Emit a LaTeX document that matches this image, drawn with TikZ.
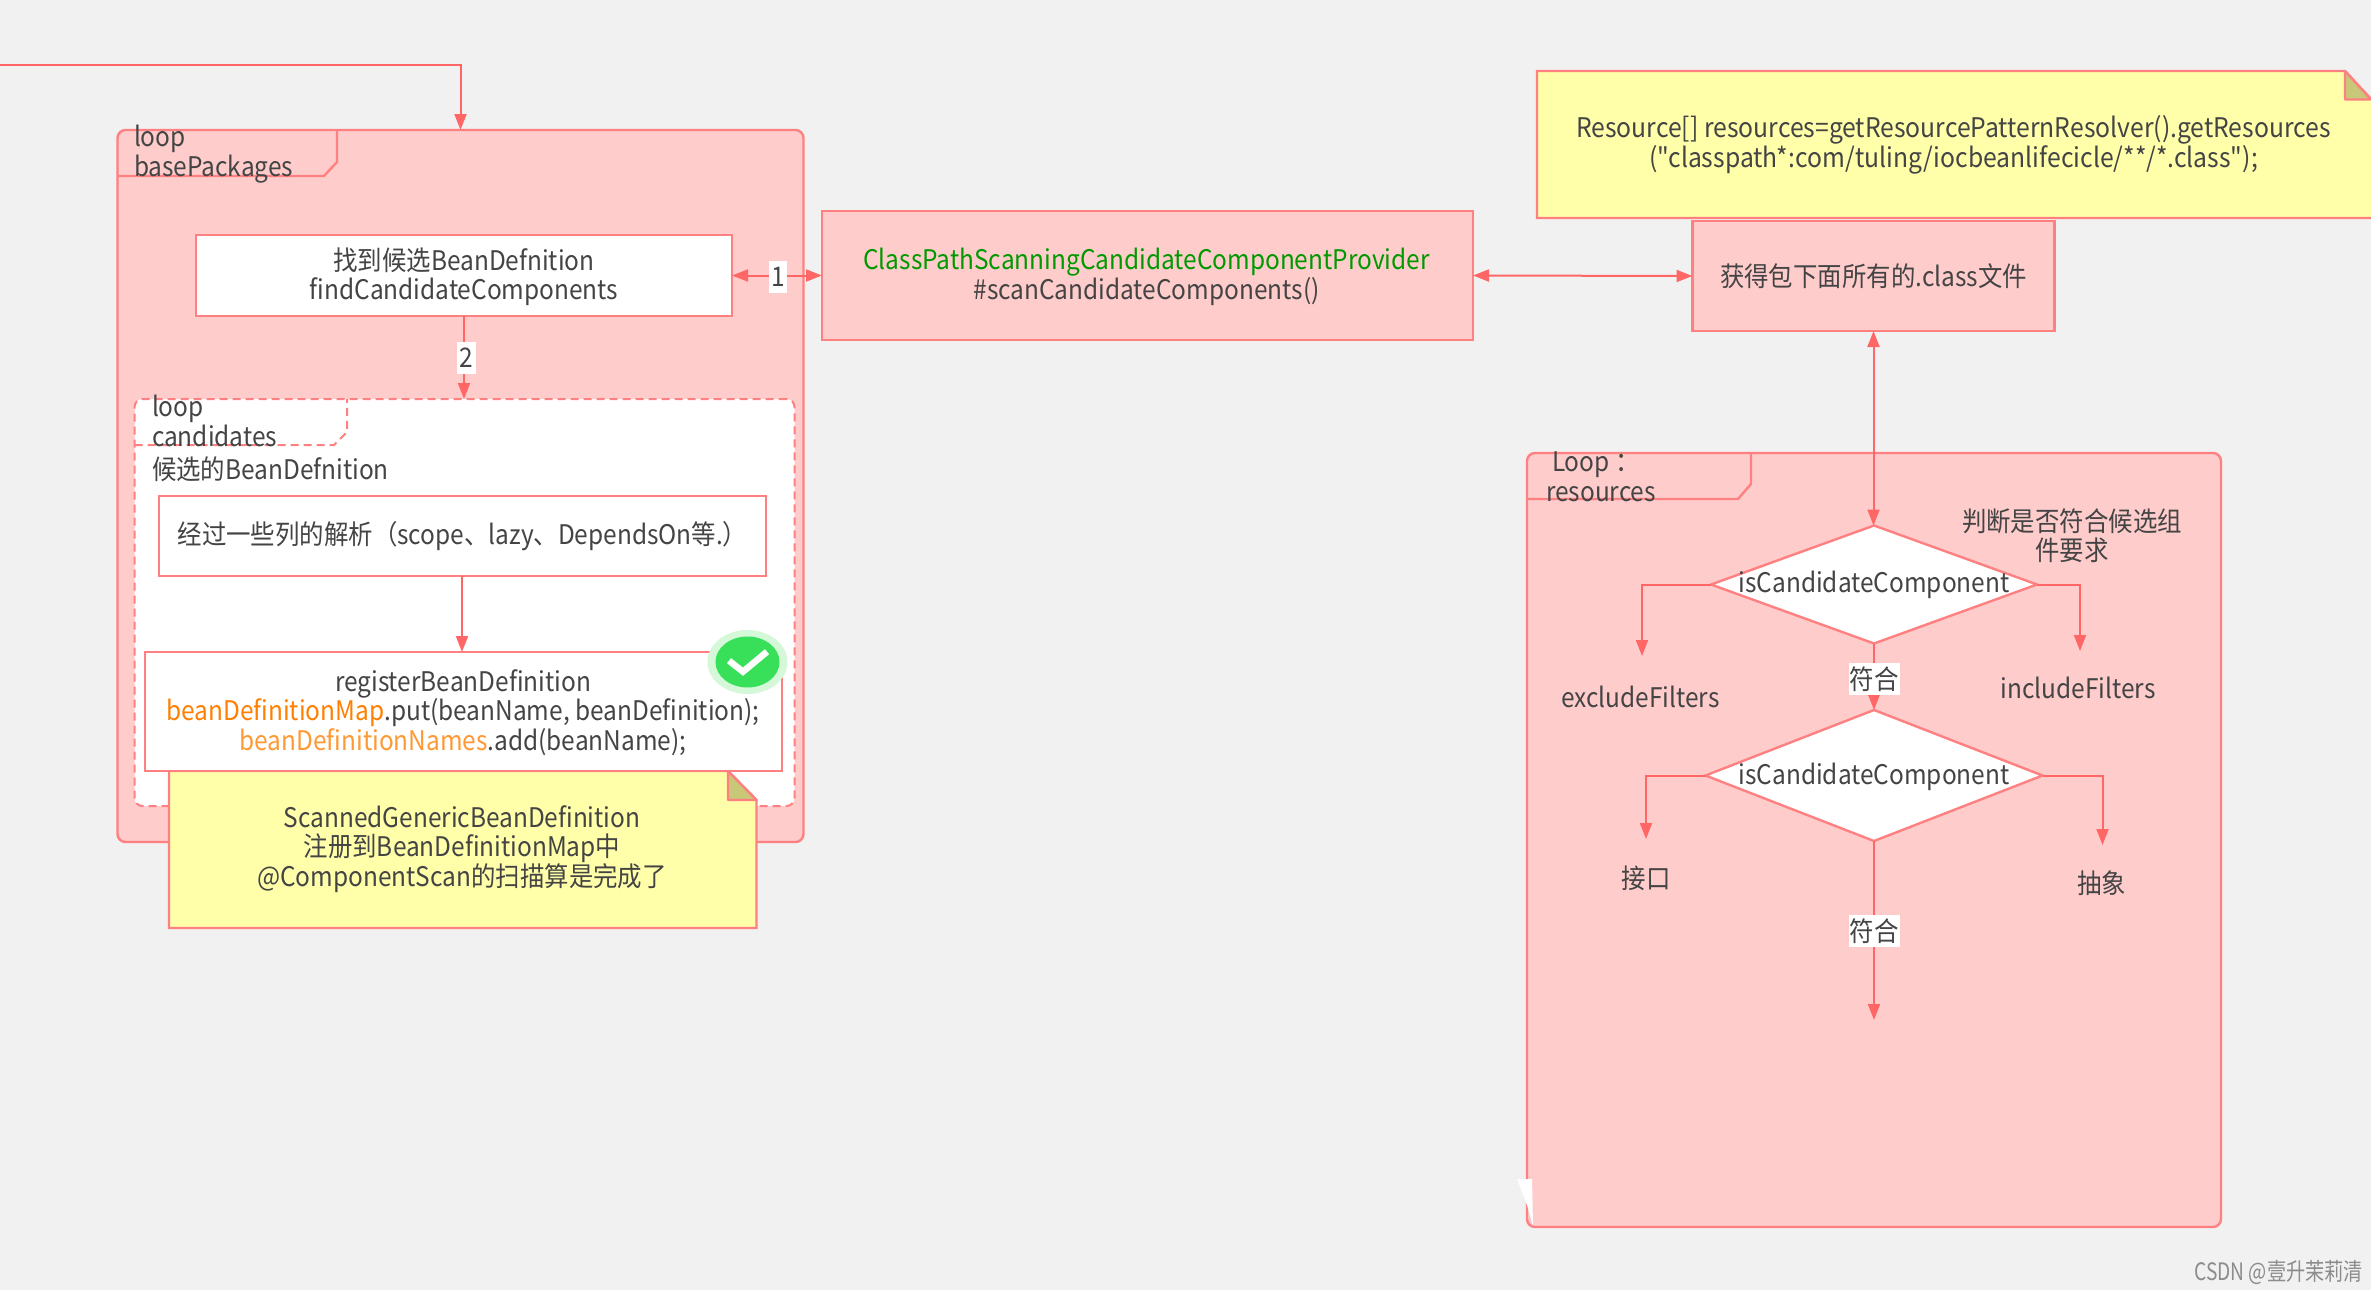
\documentclass[tikz,border=0pt]{standalone}
\usepackage{fontspec}
\setmainfont{Noto Sans CJK SC}[FakeStretch=0.905]
\newfontfamily\plainfont{Noto Sans CJK SC}[FakeStretch=0.915]
\newfontfamily\wmfont{Noto Sans CJK SC}[FakeStretch=0.8]
\usetikzlibrary{arrows.meta,shapes.geometric}
\definecolor{bgc}{HTML}{F1F1F1}
\definecolor{pinkf}{HTML}{FFCCCC}
\definecolor{edge}{HTML}{FF8080}
\definecolor{arrowc}{HTML}{FF6666}
\definecolor{notef}{HTML}{FFFFAA}
\definecolor{foldf}{HTML}{C8C878}
\definecolor{txt}{HTML}{444444}
\definecolor{greent}{HTML}{009900}
\definecolor{orangea}{HTML}{FF8000}
\definecolor{orangeb}{HTML}{FF9933}
\definecolor{okgreen}{HTML}{38E05A}
\definecolor{okhalo}{HTML}{D4F8D8}
\tikzset{
  x=1pt,y=-1pt,
  every node/.style={font=\fontsize{27}{29.5}\selectfont,text=txt,inner sep=0pt,outer sep=0pt},
  frameb/.style={draw=edge,line width=2.4pt,fill=pinkf,rounded corners=8pt},
  dashb/.style={draw=edge,line width=2pt,fill=white,rounded corners=8pt,dash pattern=on 8pt off 5pt},
  boxw/.style={draw=edge,line width=2pt,fill=white},
  boxp/.style={draw=edge,line width=2.2pt,fill=pinkf},
  tabline/.style={draw=edge,line width=2.4pt},
  notep/.style={draw=edge,line width=2.4pt,fill=notef},
  foldp/.style={draw=edge,line width=2.4pt,fill=foldf,line join=round},
  lab/.style={align=center},
  labl/.style={align=left,anchor=west},
  conn/.style={draw=arrowc,line width=2pt,-{Triangle[length=16pt,width=12pt]}},
  connb/.style={draw=arrowc,line width=2pt,{Triangle[length=16pt,width=12pt]}-{Triangle[length=16pt,width=12pt]}},
  tagw/.style={fill=white,align=center,minimum height=32pt},
  dia/.style={diamond,draw=edge,line width=2.4pt,fill=white},
}
\begin{document}
\begin{tikzpicture}
\useasboundingbox (0,0) rectangle (2378,1290);
\fill[bgc] (0,0) rectangle (2378,1290);

% left frame
\node[frameb,minimum width=686pt,minimum height=712pt] (outer) at (460.5,486) {};
\draw[tabline] (117,176) -- (324,176) -- (337,162) -- (337,130);
\node[labl] (outerlab) at (134,154) {loop\\basePackages};

\node[boxw,minimum width=536pt,minimum height=81pt] (find) at (464,275.5) {};
\node[lab] (findt) at (464,276.5) {找到候选BeanDefnition\\findCandidateComponents};

\node[dashb,minimum width=660pt,minimum height=407pt] (cand) at (464.5,602.5) {};
\draw[tabline,line width=2pt,dash pattern=on 8pt off 5pt] (134.5,445) -- (334,445) -- (347,432) -- (347,399);
\node[labl] (candlab) at (152,421) {loop\\candidates};
\node[labl] (candtxt) at (152,469.5) {候选的BeanDefnition};

\node[boxw,minimum width=607pt,minimum height=80pt] (parse) at (462,535.5) {};
\node[lab] (parset) at (462.5,536) {经过一些列的解析（scope、lazy、DependsOn等.）};

% note under register box
\draw[notep] (169,771) -- (728,771) -- (756.5,800) -- (756.5,928) -- (169,928) -- cycle;
\draw[foldp] (728,771) -- (756.5,800) -- (728,800) -- cycle;
\node[lab] (notea) at (462,849) {ScannedGenericBeanDefinition\\注册到BeanDefinitionMap中\\@ComponentScan的扫描算是完成了};

\node[boxw,minimum width=637pt,minimum height=119pt] (reg) at (463.5,711.5) {};
\node[lab] (regt) at (463,712.5) {registerBeanDefinition\\{\color{orangea}beanDefinitionMap}.put(beanName, beanDefinition);\\{\color{orangeb}beanDefinitionNames}.add(beanName);};

% check badge
\node[ellipse,fill=okhalo,minimum width=80pt,minimum height=64pt] (okh) at (747.5,662) {};
\node[ellipse,fill=okgreen,minimum width=64pt,minimum height=51pt] (ok) at (747.5,662) {};
\draw[white,line width=6.5pt] (729,660.7) -- (743,671.7) -- (767,651.7);

% middle box
\node[boxp,minimum width=651pt,minimum height=129pt] (scan) at (1147.5,275.5) {};
\node[lab] (scant) at (1146.5,277) {{\color{greent}ClassPathScanningCandidateComponentProvider}\\\#scanCandidateComponents()};

% right top
\draw[notep] (2378,218) -- (1537,218) -- (1537,71) -- (2345,71) -- (2371,99);
\draw[foldp] (2371,99.5) -- (2345,99.5) -- (2345,71) -- cycle;
\node[lab] (noteb) at (1953.5,145) {\plainfont Resource[] resources=getResourcePatternResolver().getResources\\\plainfont ("classpath*:com/tuling/iocbeanlifecicle/**/*.class");};
\node[boxp,minimum width=362pt,minimum height=110pt] (cls) at (1873.5,276) {};
\node[lab] (clst) at (1873.5,276.5) {获得包下面所有的.class文件};

% right frame
\node[frameb,minimum width=694pt,minimum height=774pt] (res) at (1874,840) {};
\draw[tabline] (1527,499) -- (1738,499) -- (1751,484) -- (1751,453);
\node[labl] (reslab) at (1546,477) {\hspace*{6pt}Loop ：\\resources};
\fill[white] (1517,1179) -- (1532,1179) -- (1533,1226) -- (1527,1205) -- cycle;

\node[lab] (judge) at (2072,535.5) {判断是否符合候选组\\件要求};
\node[dia,minimum width=326pt,minimum height=118pt,aspect=2.76] (d1) at (1874,584.5) {};
\node[lab] (d1t) at (1874,584.5) {isCandidateComponent};
\node[dia,minimum width=337pt,minimum height=131pt,aspect=2.57] (d2) at (1874,775.5) {};
\node[lab] (d2t) at (1874,776.5) {isCandidateComponent};

\node[lab] (exc) at (1640.5,697) {excludeFilters};
\node[lab] (inc) at (2078,688) {includeFilters};
\node[lab] (ifc) at (1646,878) {接口};
\node[lab] (abs) at (2101.5,883) {抽象};

\coordinate (start) at (0,65);
\coordinate (e1) at (1642,656);
\coordinate (i1) at (2080,651);
\coordinate (e2) at (1646,839);
\coordinate (i2) at (2102.5,845);
\coordinate (pass) at (1874,1020);

% connectors
\draw[conn] (start) -| (outer.north);
\draw[connb] (find.east) -- (scan.west);
\draw[conn] (find.south) -- (cand.north-|find.south);
\draw[conn] (parse.south) -- (reg.north-|parse.south);
\draw[connb] (scan.east) -- (cls.west);
\draw[connb] (cls.south) -- (d1.north-|cls.south);
\draw[conn] (d1.west) -| (e1);
\draw[conn] (d1.east) -| (i1);
\draw[conn] (d1.south) -- (d2.north);
\draw[conn] (d2.west) -| (e2);
\draw[conn] (d2.east) -| (i2);
\draw[conn] (d2.south) -- (pass);

\node[tagw,minimum width=18pt] (t1) at (778,277) {1};
\node[tagw,minimum width=19pt] (t2) at (466,358) {2};
\node[tagw,minimum width=51pt] (t3) at (1874,679) {符合};
\node[tagw,minimum width=51pt] (t4) at (1874,931) {符合};

\node[anchor=east,font=\wmfont\fontsize{24}{26}\selectfont,text=black!45] (wm) at (2363,1272) {CSDN @壹升茉莉清};
\fill[white] (2371,0) rectangle (2378,1290);
\end{tikzpicture}
\end{document}
